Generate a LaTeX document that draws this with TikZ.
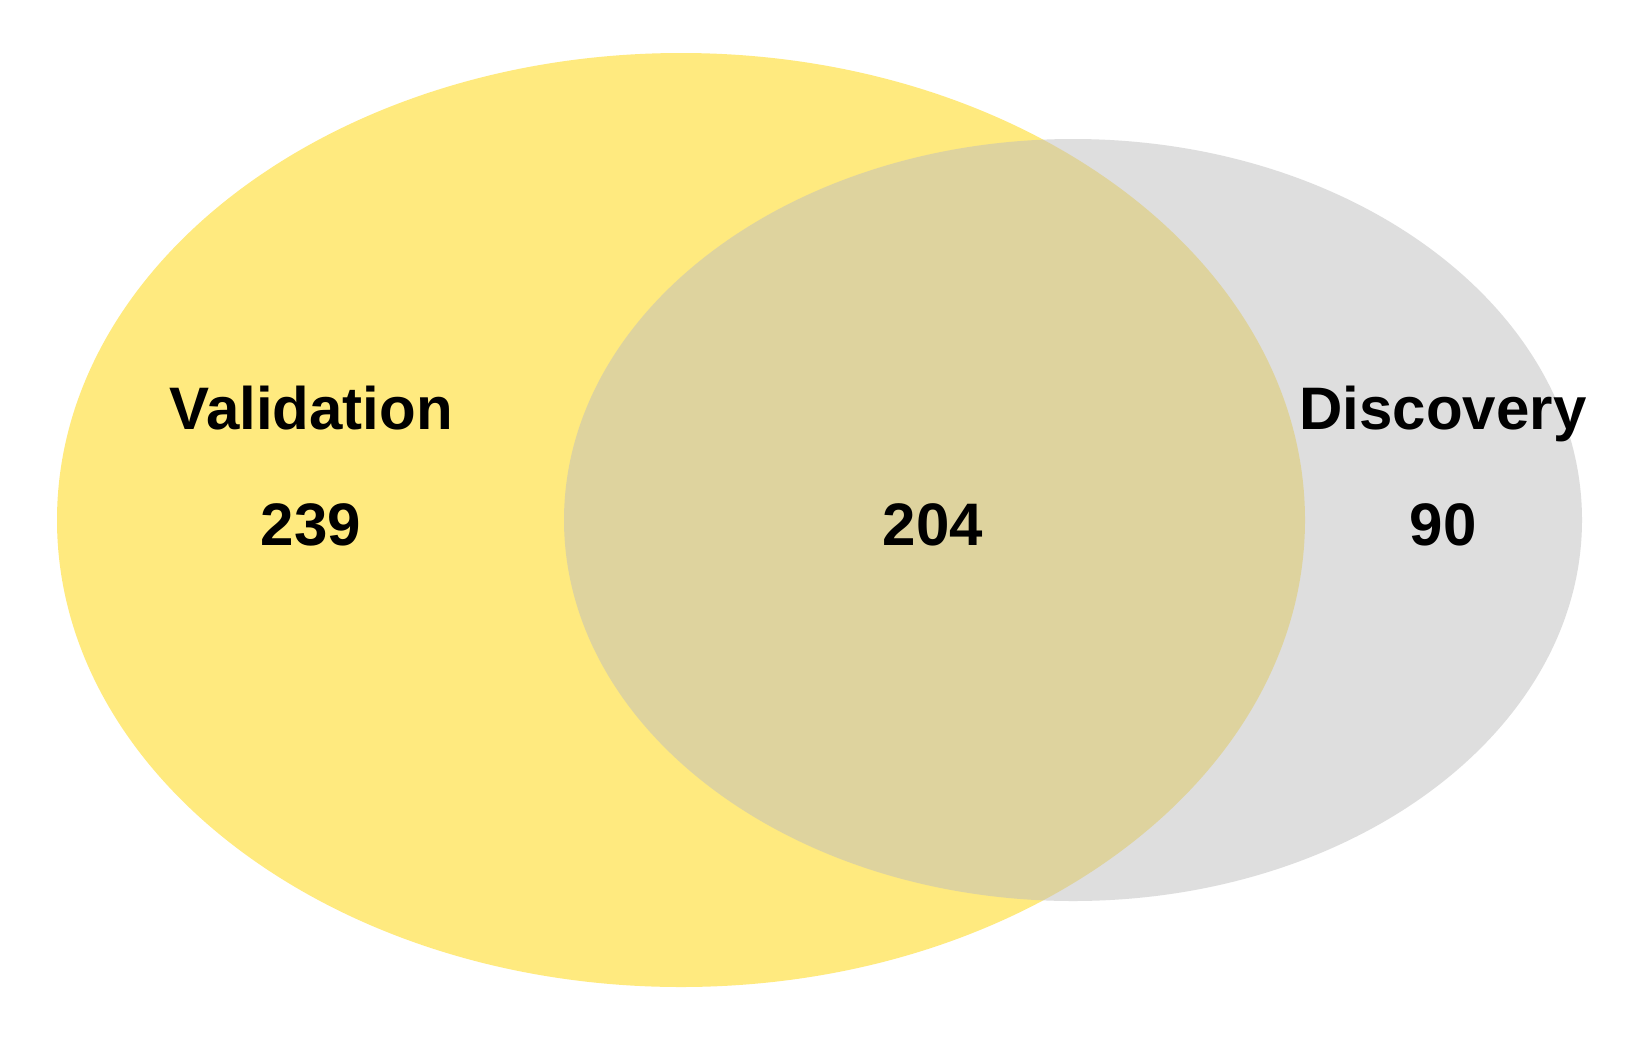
\documentclass[tikz,border=0pt]{standalone}
\usepackage{fontspec}
\setmainfont{Liberation Sans}
\begin{document}
\begin{tikzpicture}[x=1pt,y=-1pt,
  lbl/.style={anchor=base,inner sep=0pt,font=\fontsize{60}{72}\selectfont\bfseries}]
\useasboundingbox (0,0) rectangle (1648,1042);
\fill[white] (0,0) rectangle (1648,1042);
\definecolor{vgold}{RGB}{255,215,0}
\definecolor{vgrey}{RGB}{190,190,190}
\fill[vgold,fill opacity=0.5] (681,520) ellipse [x radius=624, y radius=467];
\fill[vgrey,fill opacity=0.5] (1073,520) ellipse [x radius=509, y radius=381];
\node[lbl] (vname) at (311,429) {Validation};
\node[lbl] (vnum) at (311,545) {239};
\node[lbl] (both) at (933,545) {204};
\node[lbl] (dname) at (1443,429) {Discovery};
\node[lbl] (dnum) at (1443,545) {90};
\end{tikzpicture}
\end{document}
